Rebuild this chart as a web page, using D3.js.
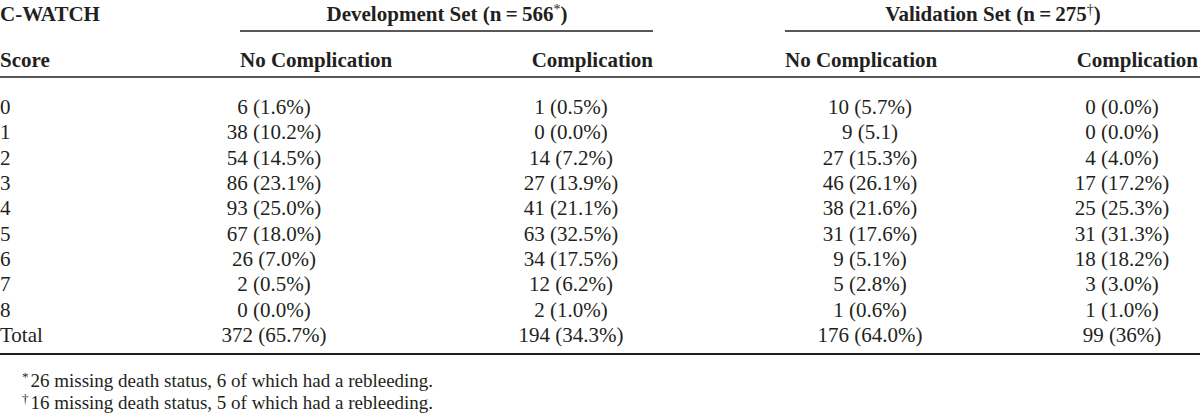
<!DOCTYPE html>
<html>
<head>
<meta charset="utf-8">
<script src="https://cdn.jsdelivr.net/npm/d3@7"></script>
<style>
	html,body{margin:0;padding:0;background:#fff;}
	svg{display:block;}
	text{font-family:"Liberation Serif","Times New Roman",serif;fill:#231f20;}
</style>
</head>
<body>
<svg id="chart" width="1200" height="418"></svg>
<script>
// table content
const scores = ['0','1','2','3','4','5','6','7','8','Total'];
const devNoComp = ['6 (1.6%)','38 (10.2%)','54 (14.5%)','86 (23.1%)','93 (25.0%)','67 (18.0%)','26 (7.0%)','2 (0.5%)','0 (0.0%)','372 (65.7%)'];
const devComp = ['1 (0.5%)','0 (0.0%)','14 (7.2%)','27 (13.9%)','41 (21.1%)','63 (32.5%)','34 (17.5%)','12 (6.2%)','2 (1.0%)','194 (34.3%)'];
const valNoComp = ['10 (5.7%)','9 (5.1)','27 (15.3%)','46 (26.1%)','38 (21.6%)','31 (17.6%)','9 (5.1%)','5 (2.8%)','1 (0.6%)','176 (64.0%)'];
const valComp = ['0 (0.0%)','0 (0.0%)','4 (4.0%)','17 (17.2%)','25 (25.3%)','31 (31.3%)','18 (18.2%)','3 (3.0%)','1 (1.0%)','99 (36%)'];
const footnotes = [
	{mark:'*',text:'26 missing death status, 6 of which had a rebleeding.'},
	{mark:'\u2020',text:'16 missing death status, 5 of which had a rebleeding.'}
];

const svg = d3.select('#chart');
const fs = 21;

const cols = ['dev0','dev1','val0','val1'];
const colData = {dev0:devNoComp,dev1:devComp,val0:valNoComp,val1:valComp};
const xCenter = d3.scaleOrdinal().domain(cols).range([274,571,870,1122]);
const y = d3.scalePoint().domain(scores).range([114,342]);

// rules
const rules = [
	{x1:240,x2:653,y:31,w:1.5},
	{x1:785,x2:1200,y:31,w:1.5},
	{x1:0,x2:1200,y:77,w:1.5},
	{x1:0,x2:1200,y:354,w:2}
];
svg.selectAll('line.rule')
	.data(rules)
	.join('line')
		.classed('rule',true)
		.attr('x1',d=>d.x1).attr('x2',d=>d.x2)
		.attr('y1',d=>d.y).attr('y2',d=>d.y)
		.attr('stroke','#231f20')
		.attr('stroke-width',d=>d.w);

// header
const head = svg.append('g').attr('font-weight','bold').attr('font-size',fs);
head.append('text').attr('x',0).attr('y',21).text('C-WATCH');
head.append('text').attr('x',0).attr('y',67).text('Score');

function spanner(label,n,mark,cx){
	const t = head.append('text').attr('x',cx).attr('y',21).attr('text-anchor','middle');
	t.append('tspan').text(label+' (n\u2009=\u2009'+n);
	t.append('tspan').attr('dy',-7).attr('font-size',14).attr('font-weight','normal').text(mark);
	t.append('tspan').attr('dy',7).text(')');
}
spanner('Development Set',566,'*',447);
spanner('Validation Set',275,'\u2020',993);

const subHeads = [
	{t:'No Complication',x:240,a:'start'},
	{t:'Complication',x:653,a:'end'},
	{t:'No Complication',x:785,a:'start'},
	{t:'Complication',x:1198,a:'end'}
];
head.selectAll('text.sub')
	.data(subHeads)
	.join('text')
		.classed('sub',true)
		.attr('x',d=>d.x)
		.attr('y',67)
		.attr('text-anchor',d=>d.a)
		.text(d=>d.t);

// body
const body = svg.append('g').attr('font-size',fs);
body.selectAll('text.score')
	.data(scores)
	.join('text')
		.classed('score',true)
		.attr('x',0)
		.attr('y',d=>y(d))
		.text(d=>d);

cols.forEach(c=>{
	body.selectAll('text.'+c)
		.data(colData[c])
		.join('text')
			.attr('class',c)
			.attr('x',xCenter(c))
			.attr('y',(d,i)=>y(scores[i]))
			.attr('text-anchor','middle')
			.text(d=>d);
});

// footnotes
const fn = svg.append('g').attr('font-size',19);
footnotes.forEach((f,i)=>{
	const t = fn.append('text').attr('x',22).attr('y',387+i*22);
	t.append('tspan').attr('font-size',13).attr('dy',-6).text(f.mark);
	t.append('tspan').attr('dy',6).attr('dx',2).text(f.text);
});
</script>
</body>
</html>
